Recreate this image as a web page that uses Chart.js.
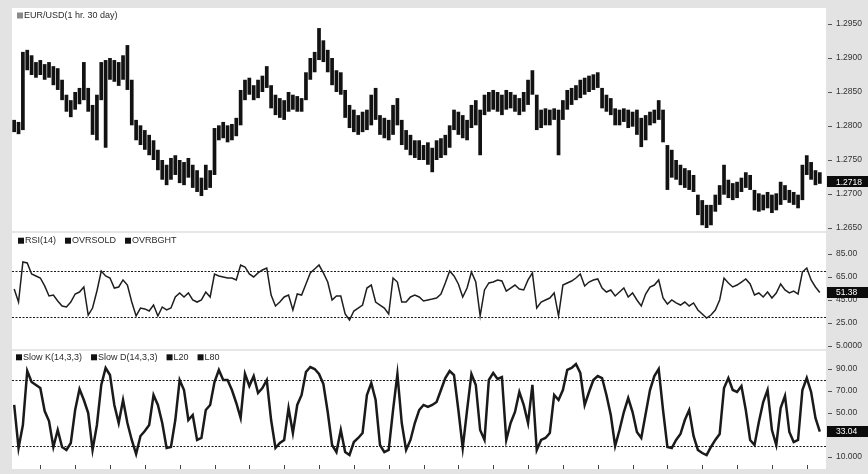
<!DOCTYPE html>
<html>
<head>
<meta charset="utf-8">
<script src="https://cdn.jsdelivr.net/npm/chart.js@4.4.0/dist/chart.umd.min.js"></script>
<style>
  body { margin: 0; width: 868px; height: 474px; background: #e3e3e3; position: relative; overflow: hidden; }
  #plotbg { position: absolute; left: 12px; top: 8px; width: 814px; height: 461px; background: #fff; }
  .sep { position: absolute; left: 12px; width: 814px; height: 2px; background: #e6e6e6; }
  canvas { position: absolute; left: 0; }
</style>
</head>
<body>
<div id="plotbg"></div>
<div class="sep" style="top:231px"></div>
<div class="sep" style="top:349px"></div>
<canvas id="priceChart" width="868" height="224" style="top:8px"></canvas>
<canvas id="rsiChart" width="868" height="118" style="top:232px"></canvas>
<canvas id="stochChart" width="868" height="120" style="top:350px"></canvas>

<script>
// --- Data (EUR/USD, one bar per ~3 hours) ---
const priceHigh = [
  1.2809,1.2806,1.2909,1.2912,1.2904,1.2894,1.2897,1.2891,1.2894,1.2888,
  1.2885,1.2868,1.2846,1.2838,1.2850,1.2856,1.2894,1.2856,1.2831,1.2846,
  1.2894,1.2897,1.2900,1.2897,1.2894,1.2904,1.2919,1.2868,1.2809,1.2801,
  1.2794,1.2787,1.2779,1.2765,1.2750,1.2743,1.2753,1.2757,1.2750,1.2747,
  1.2753,1.2743,1.2735,1.2724,1.2743,1.2735,1.2797,1.2801,1.2806,1.2801,
  1.2803,1.2812,1.2853,1.2868,1.2871,1.2860,1.2868,1.2874,1.2888,1.2860,
  1.2846,1.2841,1.2838,1.2850,1.2846,1.2844,1.2841,1.2879,1.2900,1.2909,
  1.2944,1.2926,1.2912,1.2900,1.2882,1.2879,1.2853,1.2831,1.2824,1.2816,
  1.2821,1.2824,1.2846,1.2856,1.2816,1.2812,1.2809,1.2831,1.2841,1.2809,
  1.2794,1.2787,1.2779,1.2779,1.2772,1.2776,1.2768,1.2779,1.2782,1.2787,
  1.2801,1.2824,1.2821,1.2816,1.2809,1.2831,1.2838,1.2824,1.2846,1.2850,
  1.2853,1.2850,1.2846,1.2853,1.2850,1.2846,1.2841,1.2850,1.2868,1.2882,
  1.2846,1.2824,1.2826,1.2824,1.2826,1.2824,1.2838,1.2853,1.2856,1.2860,
  1.2868,1.2871,1.2874,1.2876,1.2879,1.2856,1.2846,1.2841,1.2826,1.2824,
  1.2826,1.2824,1.2821,1.2824,1.2812,1.2816,1.2821,1.2824,1.2838,1.2824,
  1.2772,1.2765,1.2750,1.2743,1.2738,1.2735,1.2728,1.2699,1.2691,1.2684,
  1.2684,1.2699,1.2713,1.2743,1.2721,1.2716,1.2718,1.2724,1.2732,1.2728,
  1.2706,1.2701,1.2699,1.2703,1.2699,1.2701,1.2718,1.2713,1.2706,1.2703,
  1.2699,1.2743,1.2757,1.2747,1.2735,1.2732
];
const priceLow = [
  1.2791,1.2788,1.2794,1.2882,1.2875,1.2871,1.2875,1.2868,1.2871,1.2860,
  1.2853,1.2838,1.2821,1.2813,1.2824,1.2832,1.2838,1.2821,1.2787,1.2779,
  1.2838,1.2768,1.2868,1.2865,1.2859,1.2868,1.2853,1.2801,1.2779,1.2772,
  1.2765,1.2757,1.2750,1.2735,1.2721,1.2713,1.2721,1.2728,1.2716,1.2713,
  1.2724,1.2709,1.2703,1.2697,1.2706,1.2709,1.2728,1.2779,1.2782,1.2776,
  1.2779,1.2785,1.2801,1.2838,1.2846,1.2838,1.2841,1.2850,1.2856,1.2826,
  1.2816,1.2812,1.2809,1.2821,1.2824,1.2821,1.2821,1.2838,1.2868,1.2879,
  1.2897,1.2894,1.2879,1.2860,1.2850,1.2846,1.2812,1.2797,1.2791,1.2787,
  1.2791,1.2794,1.2801,1.2809,1.2787,1.2782,1.2779,1.2787,1.2801,1.2772,
  1.2765,1.2757,1.2753,1.2750,1.2750,1.2743,1.2732,1.2750,1.2753,1.2757,
  1.2768,1.2794,1.2787,1.2782,1.2779,1.2797,1.2801,1.2757,1.2816,1.2821,
  1.2824,1.2821,1.2816,1.2824,1.2826,1.2821,1.2816,1.2821,1.2831,1.2846,
  1.2794,1.2797,1.2801,1.2801,1.2809,1.2757,1.2809,1.2824,1.2831,1.2838,
  1.2841,1.2846,1.2850,1.2853,1.2856,1.2826,1.2821,1.2816,1.2801,1.2801,
  1.2806,1.2797,1.2799,1.2787,1.2769,1.2779,1.2801,1.2804,1.2809,1.2776,
  1.2706,1.2724,1.2721,1.2713,1.2709,1.2706,1.2703,1.2669,1.2654,1.2650,
  1.2654,1.2674,1.2684,1.2699,1.2694,1.2691,1.2694,1.2703,1.2709,1.2706,
  1.2676,1.2674,1.2676,1.2679,1.2672,1.2676,1.2684,1.2691,1.2687,1.2684,
  1.2679,1.2691,1.2728,1.2721,1.2713,1.2715
];
const lastClose = 1.2718;

const rsiValues = [
  54.3,43,77.8,77,67.4,65.7,63.9,57,48.3,49.1,
  43.9,39.6,38.7,43,50,51.7,56.1,31.7,37.8,52.6,
  70,65.7,63.9,55.2,56.1,62.2,57.8,43,30.9,37.8,
  37,35.2,40.4,30.9,38.7,36.1,37.8,47.4,50.9,47.4,
  50.9,44.8,43,44.8,51.7,47.4,67.4,65.7,64.8,63.9,
  63.9,62.2,75.2,73.5,67.4,64.8,68.3,70.9,72.6,49.1,
  39.6,43,47.4,49.1,36.1,50,49.1,58.7,68.3,71.7,
  75.2,68.3,60.4,44.8,48.3,48.3,32.6,27.4,35.2,37.8,
  40.4,55.2,57.8,43,40.4,37.8,32.6,63.9,60.4,43,
  43,47.4,49.1,47.4,43.9,44.8,45.6,46.5,50,59.6,
  70,65.7,58.7,47.4,55.2,69.1,60.4,30.9,53.5,59.6,
  60.4,62.2,61.3,52.6,55.2,57.8,54.3,53.5,62.2,68.3,
  37.8,43,44.8,46.5,50.9,30.9,57.8,59.6,61.3,63.9,
  67.4,57,60.4,62.2,63.1,55.2,51.7,53.5,48.3,51.7,
  55.2,47.4,50.9,44.8,39.6,50,56.1,57.8,62.2,46.5,
  41.3,44.8,42.2,40.4,43,39.6,42.2,36.1,32.6,29.1,
  31.7,36.1,44.8,63.9,59.6,56.1,57.8,60.4,63.1,58.7,
  49.1,50.9,47.4,51.7,46.5,50.9,58.7,53.5,50.9,52.6,
  50,69.1,72.6,62.2,56.1,51.38
];
const rsiLevels = [30, 70];

const slowK = [
  57.3,18.2,39.1,88.2,78.2,75.5,72.7,51.8,42.7,19.1,
  34.5,19.1,16.4,22.7,52.7,71.8,61.8,50,16.4,39.1,
  75.5,90.9,84.5,57.3,40.9,61.8,40.9,25.5,12.7,29.1,
  33.6,39.1,66.4,57.3,40.9,18.2,19.1,43.6,80,70.9,
  43.6,48.2,25.5,27.3,52.7,57.3,78.2,89.1,80,80,
  70.9,59.1,45.5,85.5,74.5,83.6,68.2,72.7,80,43.6,
  18.2,22.7,25.5,54.5,31.8,57.3,66.4,87.3,91.8,90,
  85.5,76.4,50.9,20.9,14.5,34.5,14.5,11.8,23.6,27.3,
  31.8,66.4,77.3,61.8,20.9,14.5,16.4,52.7,85.5,40.9,
  16.4,25.5,40.9,52.7,57.3,55.5,57.3,60,70.9,81.8,
  88.2,84.5,52.7,18.2,52.7,85.5,75.5,34.5,25.5,80,
  86.4,80.9,82.7,25.5,40.9,50.9,69.1,57.3,40.9,75.5,
  16.4,25.5,27.3,31.8,66.4,61.8,70.9,89.1,90.9,94.5,
  86.4,57.3,69.1,80,83.6,81.8,66.4,48.2,20,34.5,
  50.9,63.6,50.9,32.7,27.3,49.1,70.9,83.6,90,52.7,
  19.1,18.2,25.5,30.9,43.6,52.7,29.1,16.4,13.6,11.8,
  19.1,25.5,30.9,72.7,81.8,70.9,69.1,74.5,52.7,25.5,
  20.9,41.8,60,70.9,34.5,20.9,54.5,65.5,32.7,23.6,
  25.5,70.9,81.8,69.1,45.5,33.04
];
const stochLevels = [20, 80];

// Tick labels on the right-hand axes
const priceTicks = [1.2950, 1.2900, 1.2850, 1.2800, 1.2750, 1.2700, 1.2650];
const priceTickLabels = ['1.2950', '1.2900', '1.2850', '1.2800', '1.2750', '1.2700', '1.2650'];
const rsiTicks = [85, 65, 45, 25, 5];
const rsiTickLabels = ['85.00', '65.00', '45.00', '25.00', '5.0000'];
const stochTicks = [90, 70, 50, 30, 10];
const stochTickLabels = ['90.00', '70.00', '50.00', '30.00', '10.000'];

// Bars that start a new trading day (x-axis tick marks)
const dayTicks = [6,14,22,30,38,46,54,62,70,78,86,94,102,110,118,126,134,142,150,158,166,174,182];

// Legend texts
const priceLegend = ['EUR/USD(1 hr. 30 day)'];
const rsiLegend = ['RSI(14)', 'OVRSOLD', 'OVRBGHT'];
const stochLegend = ['Slow K(14,3,3)', 'Slow D(14,3,3)', 'L20', 'L80'];

const categories = priceHigh.map((_, i) => i);

const FONT = '"Liberation Sans", Arial, sans-serif';

// --- Plugin: legend, level lines, axis dashes, last-value box, day ticks ---
const panelDecor = {
    id: 'panelDecor',
    beforeDatasetsDraw(chart, args, opts) {
        if (!opts.levels) return;
        const ctx = chart.ctx, area = chart.chartArea, y = chart.scales.y;
        ctx.save();
        ctx.strokeStyle = '#1c1c1c';
        ctx.lineWidth = 1.2;
        ctx.setLineDash([2, 1.5]);
        opts.levels.forEach(v => {
            const py = Math.round(y.getPixelForValue(v)) + 0.5;
            ctx.beginPath();
            ctx.moveTo(area.left, py);
            ctx.lineTo(area.right + 4, py);
            ctx.stroke();
        });
        ctx.restore();
    },
    afterDraw(chart, args, opts) {
        const ctx = chart.ctx, area = chart.chartArea;
        const y = chart.scales.y, x = chart.scales.x;
        ctx.save();

        // legend
        if (opts.legend) {
            let lx = opts.legend.x;
            const ly = opts.legend.y;
            ctx.font = '9px ' + FONT;
            ctx.textBaseline = 'middle';
            ctx.textAlign = 'left';
            opts.legend.items.forEach(label => {
                ctx.fillStyle = opts.legend.box;
                ctx.fillRect(lx, ly - 3, 6, 6);
                ctx.fillStyle = '#2a2a2a';
                ctx.fillText(label, lx + 7, ly);
                lx += 7 + ctx.measureText(label).width + 9;
            });
        }

        // small dashes next to the axis labels
        ctx.strokeStyle = '#555';
        ctx.lineWidth = 1;
        ctx.beginPath();
        y.ticks.forEach((t, i) => {
            const py = Math.round(y.getPixelForTick(i)) + 0.5;
            ctx.moveTo(area.right + 6, py);
            ctx.lineTo(area.right + 10, py);
        });
        ctx.stroke();

        // day ticks under the bottom panel
        if (opts.dayTicks) {
            ctx.strokeStyle = '#444';
            ctx.beginPath();
            opts.dayTicks.forEach(idx => {
                const px = Math.round(x.getPixelForValue(idx)) + 0.5;
                ctx.moveTo(px, area.bottom + 3);
                ctx.lineTo(px, area.bottom + 7);
            });
            ctx.stroke();
        }

        // last value box
        if (opts.last) {
            const py = y.getPixelForValue(opts.last.value);
            ctx.fillStyle = '#0c0c0c';
            ctx.fillRect(area.right + 5, Math.round(py - 5.5), 46, 11);
            ctx.fillStyle = '#fff';
            ctx.font = '8.5px ' + FONT;
            ctx.textBaseline = 'middle';
            ctx.textAlign = 'left';
            ctx.fillText(opts.last.text, area.right + 14, py + 0.5);
        }
        ctx.restore();
    }
};
Chart.register(panelDecor);

Chart.defaults.animation = false;
Chart.defaults.responsive = false;
Chart.defaults.events = [];
Chart.defaults.font.family = FONT;

// shared right axis, chart areas all end at x = 822
const rightAxis = (min, max, ticks, labels) => ({
    position: 'right',
    min: min,
    max: max,
    afterBuildTicks: s => { s.ticks = ticks.map(v => ({ value: v })); },
    afterFit: s => { s.width = 46; s.paddingTop = 0; s.paddingBottom = 0; },
    grid: { display: false, drawTicks: false },
    border: { display: false },
    ticks: {
        autoSkip: false,
        padding: 14,
        color: '#333',
        font: { size: 8.5 },
        callback: (v, i) => labels[i]
    }
});

const hiddenX = { display: false, offset: true };

// --- Price panel: high/low bars ---
new Chart(document.getElementById('priceChart'), {
    type: 'bar',
    data: {
        labels: categories,
        datasets: [{
            label: priceLegend[0],
            data: categories.map(i => [priceLow[i], priceHigh[i]]),
            backgroundColor: '#121212',
            barPercentage: 1,
            categoryPercentage: 0.85
        }]
    },
    options: {
        layout: { padding: { left: 12, top: 16, bottom: 1, right: 0 } },
        scales: {
            x: hiddenX,
            y: rightAxis(1.264559, 1.2950, priceTicks, priceTickLabels)
        },
        plugins: {
            legend: { display: false },
            tooltip: { enabled: false },
            panelDecor: {
                legend: { x: 17, y: 7.5, box: '#8a8a8a', items: priceLegend },
                last: { value: lastClose, text: lastClose.toFixed(4) }
            }
        }
    }
});

// --- RSI panel ---
new Chart(document.getElementById('rsiChart'), {
    type: 'line',
    data: {
        labels: categories,
        datasets: [{
            label: rsiLegend[0],
            data: rsiValues,
            borderColor: '#1e1e1e',
            borderWidth: 1.5,
            pointRadius: 0,
            tension: 0
        }]
    },
    options: {
        layout: { padding: { left: 12, top: 16, bottom: 1, right: 0 } },
        scales: {
            x: hiddenX,
            y: rightAxis(2.17, 90, rsiTicks, rsiTickLabels)
        },
        plugins: {
            legend: { display: false },
            tooltip: { enabled: false },
            panelDecor: {
                levels: rsiLevels,
                legend: { x: 18, y: 8.7, box: '#111', items: rsiLegend },
                last: { value: rsiValues[rsiValues.length - 1], text: rsiValues[rsiValues.length - 1].toFixed(2) }
            }
        }
    }
});

// --- Slow stochastic panel ---
new Chart(document.getElementById('stochChart'), {
    type: 'line',
    data: {
        labels: categories,
        datasets: [{
            label: stochLegend[0],
            data: slowK,
            borderColor: '#1a1a1a',
            borderWidth: 2.5,
            pointRadius: 0,
            tension: 0
        }]
    },
    options: {
        layout: { padding: { left: 12, top: 12, bottom: 8, right: 0 } },
        scales: {
            x: hiddenX,
            y: rightAxis(5.45, 96.36, stochTicks, stochTickLabels)
        },
        plugins: {
            legend: { display: false },
            tooltip: { enabled: false },
            panelDecor: {
                levels: stochLevels,
                dayTicks: dayTicks,
                legend: { x: 16, y: 7.3, box: '#111', items: stochLegend },
                last: { value: slowK[slowK.length - 1], text: slowK[slowK.length - 1].toFixed(2) }
            }
        }
    }
});
</script>
</body>
</html>
